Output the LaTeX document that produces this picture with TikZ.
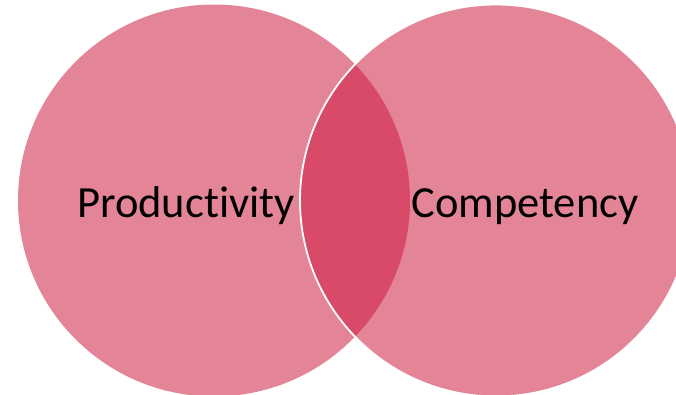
\documentclass[tikz,border=0pt]{standalone}
\usepackage{fontspec}
\setmainfont{Carlito}[Ligatures=NoCommon]
\definecolor{vennpink}{RGB}{227,132,151}
\definecolor{venndark}{RGB}{217,74,104}
\begin{document}
\begin{tikzpicture}[x=1pt,y=-1pt,
		venn/.style={circle,fill=vennpink,minimum size=392pt,inner sep=0pt},
		venntext/.style={font=\fontsize{44.5}{50}\selectfont,anchor=base,inner sep=0pt}]
		\useasboundingbox (0,0) rectangle (676,394);
		
		\node[venn] (prod) at (214,200.5) {};
		\node[venn] (comp) at (496,200.5) {};
		
		\begin{scope}
		\clip (prod.center) circle (196pt);
		\fill[venndark] (comp.center) circle (196pt);
		\end{scope}
		\draw[white,line width=1.8pt] (comp.center) circle (196pt);
		
		\node[venntext] (prodtext) at (186,217) {Productivity};
		\node[venntext] (comptext) at (525,217) {Competency};
		
		\end{tikzpicture}
\end{document}
